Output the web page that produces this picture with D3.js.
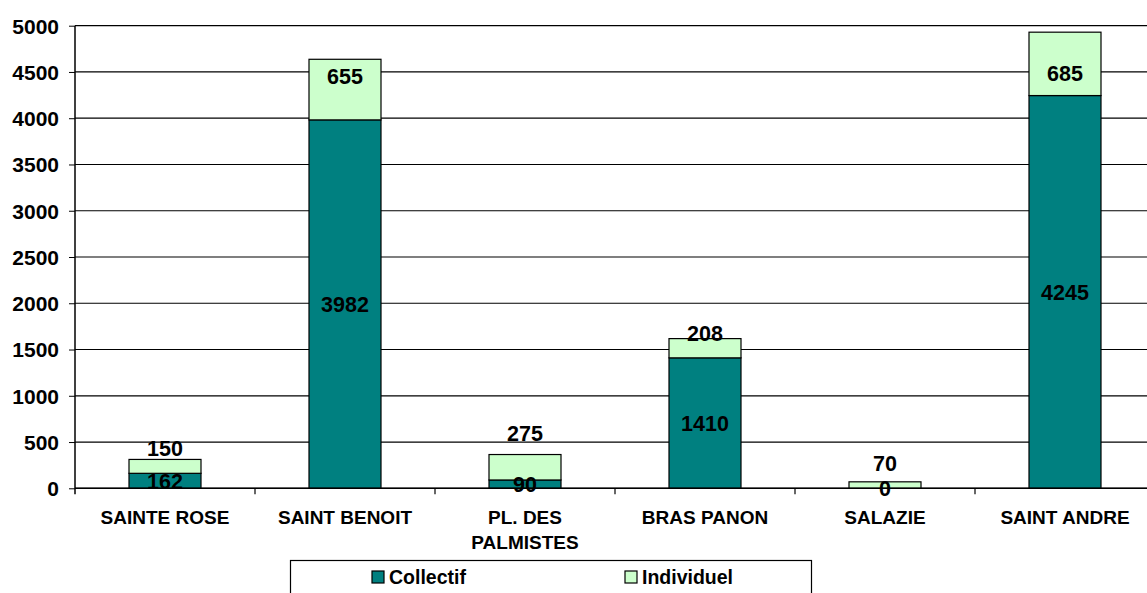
<!DOCTYPE html>
<html>
<head>
<meta charset="utf-8">
<script src="https://cdn.jsdelivr.net/npm/d3@7"></script>
<style>
  html, body { margin: 0; padding: 0; background: #fff; }
  svg { display: block; }
  text { font-family: "Liberation Sans", Arial, sans-serif; font-weight: bold; fill: #000; }
</style>
</head>
<body>
<svg id="chart" width="1147" height="593"></svg>
<script>
// Logements par commune, répartis entre collectif et individuel
const communes = [["SAINTE ROSE"], ["SAINT BENOIT"], ["PL. DES", "PALMISTES"], ["BRAS PANON"], ["SALAZIE"], ["SAINT ANDRE"]];
const collectif = [162, 3982, 90, 1410, 0, 4245];
const individuel = [150, 655, 275, 208, 70, 685];
const yTicks = [0, 500, 1000, 1500, 2000, 2500, 3000, 3500, 4000, 4500, 5000];
const seriesNames = ["Collectif", "Individuel"];
const seriesColors = ["#008080", "#CCFFCC"];

// vertical offset (px) of each "Individuel" label from the middle of its segment
const individuelLabelShift = [-18, -13, -34, -15, -22, 9];

const svg = d3.select("#chart");
const plot = { left: 75, right: 1155, top: 25.7, bottom: 488.3 };

const keys = communes.map((c, i) => i);
const x = d3.scaleBand().domain(keys).range([plot.left, plot.right])
  .paddingInner(0.6).paddingOuter(0.3);
const y = d3.scaleLinear().domain([0, 5000]).range([plot.bottom, plot.top]);

// horizontal gridlines with small outer ticks on the left
const yAxis = d3.axisLeft(y).tickValues(yTicks).tickSize(6).tickPadding(10).tickFormat(d3.format("d"));
const gy = svg.append("g").attr("transform", `translate(${plot.left},0)`).call(yAxis);
gy.select(".domain").remove();
gy.selectAll(".tick line").attr("stroke", "#000");
gy.selectAll(".tick text").style("font-size", "21px").attr("dy", "0.35em");
svg.append("g").selectAll("line").data(yTicks).join("line")
  .attr("x1", plot.left).attr("x2", 1147)
  .attr("y1", d => y(d)).attr("y2", d => y(d))
  .attr("stroke", "#000").attr("stroke-width", 1.2);

// stacked bars
const stack = d3.stack().keys([0, 1]).value((d, k) => d[k]);
const rows = keys.map(i => [collectif[i], individuel[i]]);
const layers = stack(rows);

const bars = svg.append("g");
layers.forEach((layer, li) => {
  bars.append("g").selectAll("rect").data(layer).join("rect")
    .attr("x", (d, i) => x(i))
    .attr("width", x.bandwidth())
    .attr("y", d => y(d[1]))
    .attr("height", d => y(d[0]) - y(d[1]))
    .attr("fill", seriesColors[li])
    .attr("stroke", "#000").attr("stroke-width", 1.2);
});

// y axis line
svg.append("line").attr("x1", plot.left).attr("x2", plot.left)
  .attr("y1", plot.top).attr("y2", plot.bottom + 6)
  .attr("stroke", "#000").attr("stroke-width", 1.5);
// x axis line with category separators
svg.append("line").attr("x1", plot.left).attr("x2", 1147)
  .attr("y1", plot.bottom).attr("y2", plot.bottom)
  .attr("stroke", "#000").attr("stroke-width", 1.5);
const step = x.step();
svg.append("g").selectAll("line").data(d3.range(1, keys.length + 1)).join("line")
  .attr("x1", k => plot.left + k * step).attr("x2", k => plot.left + k * step)
  .attr("y1", plot.bottom).attr("y2", plot.bottom + 6)
  .attr("stroke", "#000").attr("stroke-width", 1.2);

// category labels
const cat = svg.append("g").selectAll("text").data(communes).join("text")
  .attr("x", (d, i) => x(i) + x.bandwidth() / 2)
  .attr("y", 524)
  .attr("text-anchor", "middle")
  .style("font-size", "19px");
cat.selectAll("tspan").data(d => d).join("tspan")
  .attr("x", function () { return this.parentNode.getAttribute("x"); })
  .attr("dy", (d, j) => j === 0 ? 0 : 25)
  .text(d => d);

// value labels
const labels = svg.append("g").style("font-size", "21.5px");
layers[0].forEach((d, i) => {
  labels.append("text")
    .attr("x", x(i) + x.bandwidth() / 2)
    .attr("y", (y(d[0]) + y(d[1])) / 2)
    .attr("dy", "0.36em").attr("text-anchor", "middle")
    .text(collectif[i]);
});
layers[1].forEach((d, i) => {
  labels.append("text")
    .attr("x", x(i) + x.bandwidth() / 2)
    .attr("y", (y(d[0]) + y(d[1])) / 2 + individuelLabelShift[i])
    .attr("dy", "0.36em").attr("text-anchor", "middle")
    .text(individuel[i]);
});

// legend
const legend = svg.append("g");
legend.append("rect").attr("x", 290.5).attr("y", 560.5).attr("width", 521).attr("height", 60)
  .attr("fill", "#fff").attr("stroke", "#000").attr("stroke-width", 1.2);
const legendX = [372, 625];
seriesNames.forEach((name, i) => {
  legend.append("rect").attr("x", legendX[i]).attr("y", 571).attr("width", 12).attr("height", 12)
    .attr("fill", seriesColors[i]).attr("stroke", "#000").attr("stroke-width", 1.2);
  legend.append("text").attr("x", legendX[i] + 17).attr("y", 584)
    .style("font-size", "19.5px").text(name);
});
</script>
</body>
</html>
